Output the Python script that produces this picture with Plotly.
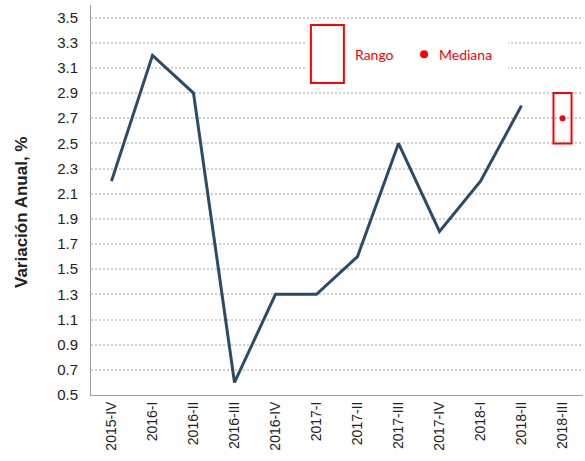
import plotly.graph_objects as go

categories = ["2015-IV", "2016-I", "2016-II", "2016-III", "2016-IV", "2017-I",
              "2017-II", "2017-III", "2017-IV", "2018-I", "2018-II", "2018-III"]
variacion = [2.2, 3.2, 2.9, 0.6, 1.3, 1.3, 1.6, 2.5, 1.8, 2.2, 2.8, None]
rango_cat = ["2018-III"]
rango_min = [2.5]
rango_max = [2.9]
mediana = [2.7]
y_ticks = [0.5, 0.7, 0.9, 1.1, 1.3, 1.5, 1.7, 1.9, 2.1, 2.3, 2.5, 2.7, 2.9, 3.1, 3.3, 3.5]

RED = "#ff0000"
LINE = "#2d4a66"
FONT = "Arial, 'Liberation Sans', sans-serif"

fig = go.Figure()
fig.add_trace(go.Scatter(x=categories, y=variacion, mode="lines",
                         line=dict(color=LINE, width=3), showlegend=False))
fig.add_trace(go.Bar(x=rango_cat, base=rango_min,
                     y=[hi - lo for hi, lo in zip(rango_max, rango_min)],
                     width=0.44, marker=dict(color="rgba(255,255,255,0)",
                                             line=dict(color=RED, width=2)),
                     showlegend=False))
fig.add_trace(go.Scatter(x=rango_cat, y=mediana, mode="markers",
                         marker=dict(color=RED, size=6), showlegend=False))

# legend drawn manually
fig.add_shape(type="rect", xref="paper", yref="paper", x0=0.439, x1=0.848, y0=0.808, y1=0.936,
              fillcolor="white", line=dict(width=0), layer="above")
fig.add_shape(type="rect", xref="paper", yref="paper", x0=0.447, x1=0.514, y0=0.80, y1=0.949,
              fillcolor="rgba(0,0,0,0)", line=dict(color=RED, width=2), layer="above")
fig.add_annotation(xref="paper", yref="paper", x=0.577, y=0.872, text="Rango", showarrow=False,
                   xanchor="center", yanchor="middle",
                   font=dict(family="Lato", size=14, color=RED))
fig.add_annotation(xref="paper", yref="paper", x=0.762, y=0.872, text="Mediana", showarrow=False,
                   xanchor="center", yanchor="middle",
                   font=dict(family="Lato", size=14, color=RED))
fig.add_shape(type="circle", xref="paper", yref="paper", x0=0.677 - 4 / 492, x1=0.677 + 4 / 492,
              y0=0.874 - 4 / 390, y1=0.874 + 4 / 390, fillcolor=RED, line=dict(width=0), layer="above")

# y-axis title
fig.add_annotation(xref="paper", yref="paper", x=-0.140, y=0.467, text="<b>Variación Anual, %</b>",
                   textangle=-90, showarrow=False, xanchor="center", yanchor="middle",
                   font=dict(family=FONT, size=17, color="#222"))

fig.update_layout(
    width=585, height=461,
    margin=dict(l=91, r=2, t=5, b=66, autoexpand=False),
    plot_bgcolor="white", paper_bgcolor="white",
    font=dict(family=FONT, size=14, color="#222"),
    xaxis=dict(categoryorder="array", categoryarray=categories, range=[-0.5, 11.5],
               tickangle=-90, showgrid=False, showline=True, linecolor="#a0a0a0",
               linewidth=1, ticks="", tickfont=dict(size=14), automargin=False),
    yaxis=dict(range=[0.5, 3.6], tickvals=y_ticks, ticktext=[f"{v:.1f}" for v in y_ticks],
               showgrid=True, gridcolor="#d0d0d0", griddash="2px,2px", gridwidth=1.5,
               showline=True, linecolor="#a0a0a0", linewidth=1, ticks="",
               ticklabelstandoff=9, zeroline=False, automargin=False,
               tickfont=dict(size=15)),
)

fig.write_html("out.html", post_script="document.body.style.margin='0';",
               config={"displayModeBar": False})
